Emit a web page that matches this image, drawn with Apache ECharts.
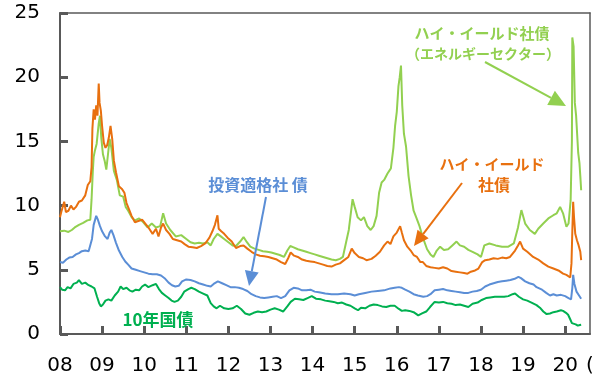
<!DOCTYPE html>
<html>
<head>
<meta charset="utf-8">
<script src="https://cdn.jsdelivr.net/npm/echarts@6/dist/echarts.min.js"></script>
<style>
  html, body { margin: 0; padding: 0; background: #fff; }
  #chart { width: 592px; height: 378px; }
</style>
</head>
<body>
<div id="chart"></div>
<script>
// Yields (%), sampled as [year, value]
const tsy10 = [
  [2008.00,3.65],[2008.05,3.45],[2008.12,3.4],[2008.18,3.65],[2008.25,3.55],[2008.32,3.9],[2008.40,4.0],
  [2008.45,4.2],[2008.52,3.9],[2008.60,4.0],[2008.68,3.8],[2008.75,3.7],[2008.82,3.55],[2008.85,3.4],
  [2008.88,2.9],[2008.93,2.4],[2008.97,2.15],[2009.02,2.3],[2009.08,2.6],[2009.15,2.7],[2009.22,2.6],
  [2009.30,3.0],[2009.38,3.3],[2009.44,3.7],[2009.50,3.5],[2009.58,3.6],[2009.65,3.4],[2009.72,3.3],
  [2009.80,3.45],[2009.88,3.4],[2009.95,3.7],[2010.02,3.85],[2010.10,3.65],[2010.20,3.8],[2010.28,3.9],
  [2010.35,3.5],[2010.42,3.2],[2010.50,3.0],[2010.58,2.8],[2010.65,2.6],[2010.72,2.5],[2010.80,2.6],
  [2010.88,2.9],[2010.95,3.3],[2011.05,3.5],[2011.12,3.6],[2011.20,3.5],[2011.30,3.3],[2011.40,3.15],
  [2011.50,3.0],[2011.58,2.4],[2011.65,2.15],[2011.72,2.0],[2011.80,2.2],[2011.90,2.0],[2012.00,1.95],
  [2012.10,2.0],[2012.20,2.2],[2012.30,1.95],[2012.40,1.6],[2012.50,1.5],[2012.60,1.65],[2012.70,1.75],
  [2012.80,1.7],[2012.90,1.75],[2013.00,1.9],[2013.10,2.0],[2013.20,1.9],[2013.30,1.75],[2013.40,2.15],
  [2013.48,2.5],[2013.58,2.75],[2013.68,2.7],[2013.78,2.65],[2013.88,2.8],[2013.98,2.95],[2014.08,2.75],
  [2014.20,2.7],[2014.30,2.6],[2014.40,2.55],[2014.50,2.5],[2014.60,2.4],[2014.70,2.45],[2014.80,2.3],
  [2014.90,2.2],[2015.00,2.0],[2015.08,1.85],[2015.15,2.05],[2015.25,2.0],[2015.35,2.2],[2015.45,2.3],
  [2015.55,2.25],[2015.65,2.15],[2015.75,2.1],[2015.85,2.2],[2015.95,2.2],[2016.05,1.95],[2016.12,1.8],
  [2016.20,1.85],[2016.30,1.8],[2016.40,1.7],[2016.51,1.45],[2016.60,1.6],[2016.70,1.75],[2016.79,2.1],
  [2016.90,2.5],[2017.00,2.45],[2017.10,2.5],[2017.20,2.4],[2017.30,2.35],[2017.40,2.25],[2017.50,2.3],
  [2017.60,2.2],[2017.70,2.1],[2017.80,2.35],[2017.92,2.45],[2018.02,2.65],[2018.12,2.8],[2018.22,2.85],
  [2018.33,2.9],[2018.45,2.9],[2018.55,2.9],[2018.65,2.95],[2018.75,3.1],[2018.81,3.15],[2018.90,2.9],
  [2019.00,2.7],[2019.10,2.6],[2019.20,2.45],[2019.32,2.25],[2019.40,2.05],[2019.48,1.75],[2019.56,1.55],
  [2019.64,1.6],[2019.72,1.7],[2019.80,1.75],[2019.90,1.85],[2019.95,1.8],[2020.02,1.65],[2020.07,1.5],
  [2020.12,1.15],[2020.16,0.85],[2020.20,0.7],[2020.25,0.75],[2020.30,0.65],[2020.35,0.7],[2020.38,0.72]
];

const igCorp = [
  [2008.00,5.6],[2008.07,5.55],[2008.15,5.8],[2008.22,5.95],[2008.30,6.0],[2008.38,6.2],[2008.45,6.3],
  [2008.52,6.45],[2008.60,6.5],[2008.68,6.45],[2008.72,6.4],[2008.76,7.4],[2008.80,8.5],[2008.86,9.2],
  [2008.90,8.9],[2008.95,8.4],[2009.00,8.0],[2009.07,7.6],[2009.13,7.4],[2009.18,7.9],[2009.22,8.1],
  [2009.27,7.7],[2009.33,7.1],[2009.40,6.5],[2009.48,6.0],[2009.55,5.65],[2009.62,5.4],[2009.70,5.1],
  [2009.80,5.0],[2009.90,4.9],[2010.00,4.8],[2010.10,4.7],[2010.20,4.65],[2010.30,4.65],[2010.40,4.55],
  [2010.50,4.3],[2010.58,4.0],[2010.66,3.8],[2010.74,3.7],[2010.82,3.75],[2010.90,4.1],[2011.00,4.25],
  [2011.10,4.2],[2011.20,4.1],[2011.30,3.95],[2011.40,3.85],[2011.50,3.75],[2011.58,3.7],[2011.65,3.9],
  [2011.75,4.1],[2011.85,3.95],[2011.95,3.8],[2012.05,3.65],[2012.15,3.65],[2012.25,3.6],[2012.35,3.5],
  [2012.45,3.35],[2012.55,3.1],[2012.65,2.95],[2012.75,2.85],[2012.85,2.8],[2012.95,2.85],[2013.05,2.9],
  [2013.15,2.95],[2013.25,2.8],[2013.35,2.95],[2013.45,3.4],[2013.55,3.6],[2013.65,3.55],[2013.75,3.4],
  [2013.85,3.4],[2013.95,3.45],[2014.05,3.3],[2014.15,3.25],[2014.30,3.15],[2014.45,3.1],[2014.60,3.1],
  [2014.75,3.15],[2014.90,3.1],[2015.00,3.0],[2015.10,3.1],[2015.25,3.2],[2015.40,3.3],[2015.55,3.35],
  [2015.70,3.4],[2015.85,3.55],[2015.95,3.6],[2016.05,3.65],[2016.12,3.6],[2016.20,3.45],[2016.30,3.3],
  [2016.40,3.1],[2016.50,3.0],[2016.63,2.9],[2016.72,2.95],[2016.80,3.1],[2016.90,3.4],[2017.00,3.45],
  [2017.10,3.5],[2017.20,3.4],[2017.30,3.35],[2017.40,3.3],[2017.50,3.25],[2017.60,3.2],[2017.70,3.2],
  [2017.80,3.3],[2017.90,3.35],[2018.00,3.45],[2018.10,3.7],[2018.20,3.85],[2018.30,3.95],[2018.40,4.05],
  [2018.50,4.1],[2018.60,4.15],[2018.70,4.2],[2018.80,4.3],[2018.89,4.45],[2018.95,4.35],[2019.05,4.1],
  [2019.15,3.95],[2019.25,3.85],[2019.32,3.65],[2019.45,3.45],[2019.55,3.2],[2019.64,3.0],[2019.72,3.1],
  [2019.80,3.0],[2019.90,3.05],[2020.00,2.95],[2020.08,2.8],[2020.14,2.7],[2020.17,3.6],[2020.19,4.6],
  [2020.22,3.9],[2020.27,3.3],[2020.33,3.0],[2020.38,2.75]
];

const hyCorp = [
  [2008.00,9.1],[2008.03,9.5],[2008.06,9.4],[2008.10,10.3],[2008.14,9.5],[2008.20,9.6],[2008.26,10.0],
  [2008.32,9.7],[2008.38,9.9],[2008.45,10.3],[2008.52,10.4],[2008.60,10.8],[2008.66,11.6],[2008.72,11.9],
  [2008.75,13.0],[2008.77,16.0],[2008.80,17.5],[2008.83,16.7],[2008.86,17.8],[2008.89,17.0],[2008.92,19.5],
  [2008.94,18.0],[2008.97,17.4],[2009.00,16.2],[2009.04,14.9],[2009.08,14.5],[2009.12,14.7],[2009.16,15.3],
  [2009.20,16.2],[2009.24,15.2],[2009.28,13.5],[2009.33,12.6],[2009.40,11.5],[2009.47,11.3],[2009.53,11.0],
  [2009.58,10.2],[2009.64,9.7],[2009.70,9.2],[2009.78,8.7],[2009.86,8.8],[2009.95,8.9],[2010.05,8.5],
  [2010.12,8.2],[2010.20,7.8],[2010.28,8.2],[2010.34,7.6],[2010.40,8.3],[2010.45,8.6],[2010.52,8.1],
  [2010.60,7.8],[2010.68,7.4],[2010.78,7.3],[2010.88,7.2],[2010.96,7.0],[2011.05,6.8],[2011.15,6.75],
  [2011.25,6.7],[2011.35,6.85],[2011.45,7.05],[2011.55,7.5],[2011.62,8.0],[2011.68,8.5],[2011.74,9.25],
  [2011.77,8.2],[2011.83,8.0],[2011.90,7.8],[2011.98,7.5],[2012.08,7.2],[2012.18,6.7],[2012.28,6.85],
  [2012.36,6.9],[2012.45,6.65],[2012.55,6.4],[2012.65,6.2],[2012.75,6.1],[2012.85,6.05],[2012.95,6.0],
  [2013.05,5.9],[2013.15,5.8],[2013.25,5.6],[2013.35,5.45],[2013.42,5.9],[2013.48,6.35],[2013.56,6.1],
  [2013.65,6.0],[2013.75,5.8],[2013.85,5.7],[2013.95,5.65],[2014.05,5.6],[2014.15,5.5],[2014.25,5.4],
  [2014.35,5.3],[2014.45,5.25],[2014.55,5.4],[2014.65,5.5],[2014.75,5.75],[2014.85,6.0],[2014.93,6.65],
  [2015.00,6.3],[2015.10,6.0],[2015.20,5.9],[2015.28,5.75],[2015.40,5.85],[2015.50,6.1],[2015.60,6.4],
  [2015.70,6.9],[2015.78,7.2],[2015.85,7.0],[2015.92,7.6],[2016.00,7.9],[2016.08,8.4],[2016.12,7.9],
  [2016.17,7.3],[2016.25,6.8],[2016.33,6.5],[2016.40,6.15],[2016.48,6.0],[2016.56,5.6],[2016.62,5.6],
  [2016.70,5.3],[2016.80,5.2],[2016.90,5.15],[2017.00,5.1],[2017.10,5.2],[2017.20,5.1],[2017.30,4.9],
  [2017.40,4.85],[2017.50,4.8],[2017.60,4.75],[2017.68,4.7],[2017.76,4.85],[2017.86,4.95],[2017.94,5.1],
  [2018.03,5.6],[2018.10,5.75],[2018.20,5.8],[2018.30,5.9],[2018.40,5.85],[2018.50,5.95],[2018.60,5.9],
  [2018.69,6.0],[2018.81,6.5],[2018.88,6.9],[2018.93,7.2],[2019.00,6.65],[2019.10,6.4],[2019.24,6.0],
  [2019.36,5.8],[2019.48,5.5],[2019.60,5.25],[2019.72,5.1],[2019.84,4.95],[2019.95,4.7],[2020.03,4.6],
  [2020.07,4.45],[2020.12,4.4],[2020.15,5.5],[2020.17,8.0],[2020.19,10.3],[2020.21,9.1],[2020.24,7.8],
  [2020.28,7.3],[2020.32,6.9],[2020.36,6.4],[2020.38,5.75]
];

const hyEnergy = [
  [2008.00,8.0],[2008.10,8.05],[2008.20,7.95],[2008.28,8.1],[2008.35,8.3],[2008.45,8.5],[2008.55,8.65],
  [2008.65,8.85],[2008.72,8.9],[2008.75,10.5],[2008.78,12.7],[2008.80,13.8],[2008.83,14.3],[2008.87,14.8],
  [2008.92,16.4],[2008.95,17.0],[2008.98,15.3],[2009.02,14.0],[2009.06,13.5],[2009.10,12.8],[2009.14,14.0],
  [2009.18,15.2],[2009.22,14.5],[2009.28,12.7],[2009.35,12.0],[2009.42,10.8],[2009.50,10.7],[2009.56,9.9],
  [2009.62,9.6],[2009.70,9.1],[2009.78,8.85],[2009.88,9.0],[2009.98,8.7],[2010.08,8.3],[2010.18,8.6],
  [2010.28,8.3],[2010.38,8.4],[2010.45,9.4],[2010.52,8.6],[2010.62,8.1],[2010.75,7.6],[2010.88,7.7],
  [2011.00,7.4],[2011.10,7.15],[2011.20,7.05],[2011.30,7.1],[2011.40,7.05],[2011.50,7.15],[2011.58,6.9],
  [2011.65,7.4],[2011.74,7.8],[2011.82,7.6],[2011.90,7.4],[2012.00,7.15],[2012.10,6.9],[2012.18,6.85],
  [2012.28,7.2],[2012.36,7.55],[2012.44,7.15],[2012.52,6.8],[2012.62,6.65],[2012.72,6.55],[2012.82,6.45],
  [2012.92,6.4],[2013.02,6.35],[2013.12,6.25],[2013.22,6.15],[2013.32,6.0],[2013.40,6.5],[2013.47,6.85],
  [2013.55,6.75],[2013.65,6.6],[2013.75,6.5],[2013.85,6.4],[2013.95,6.3],[2014.05,6.2],[2014.15,6.1],
  [2014.25,6.0],[2014.35,5.9],[2014.45,5.8],[2014.55,5.75],[2014.65,5.85],[2014.72,6.0],[2014.80,7.2],
  [2014.86,8.1],[2014.92,9.7],[2014.95,10.5],[2015.00,9.9],[2015.07,9.1],[2015.15,8.85],[2015.22,9.1],
  [2015.30,8.4],[2015.38,8.1],[2015.45,8.4],[2015.52,9.2],[2015.58,11.0],[2015.64,11.8],[2015.70,12.0],
  [2015.78,12.5],[2015.86,12.9],[2015.92,14.5],[2015.96,16.2],[2016.00,17.3],[2016.04,19.3],[2016.07,20.0],
  [2016.10,20.9],[2016.13,17.8],[2016.17,15.6],[2016.22,14.6],[2016.28,12.3],[2016.34,10.8],[2016.40,9.6],
  [2016.46,9.1],[2016.54,8.4],[2016.62,7.5],[2016.72,6.6],[2016.80,6.2],[2016.87,6.0],[2016.95,6.5],
  [2017.03,6.8],[2017.12,6.55],[2017.22,6.6],[2017.32,6.9],[2017.42,7.2],[2017.50,6.9],[2017.60,6.8],
  [2017.70,6.55],[2017.80,6.4],[2017.92,6.2],[2018.00,6.0],[2018.08,6.9],[2018.20,7.05],[2018.35,6.9],
  [2018.50,6.8],[2018.65,6.8],[2018.78,7.05],[2018.88,8.3],[2018.96,9.65],[2019.05,8.6],[2019.16,8.1],
  [2019.28,7.8],[2019.36,8.2],[2019.48,8.6],[2019.60,9.0],[2019.72,9.25],[2019.80,9.4],[2019.88,9.9],
  [2019.95,9.4],[2020.03,8.35],[2020.08,8.6],[2020.13,10.4],[2020.16,15.0],[2020.17,23.1],[2020.20,22.4],
  [2020.23,18.0],[2020.26,17.0],[2020.29,17.0],[2020.31,14.1],[2020.34,13.3],[2020.36,12.3],[2020.38,11.2]
];

const yearTicks = ['08','09','10','11','12','13','14','15','16','17','18','19','20'];

const C_TSY = '#00B050';
const C_IG = '#5B8ED6';
const C_HY = '#E8700F';
const C_EN = '#92D050';
const AXIS = '#595959';
const JP = '"Noto Sans CJK JP", "Noto Sans", sans-serif';
const NUM = '"DejaVu Sans", Verdana, sans-serif';
const X_MIN = 2008, X_MAX = 2020.59;

const chart = echarts.init(document.getElementById('chart'));

function lineSeries(name, data, color, z) {
  return {
    name, type: 'line', data, z,
    showSymbol: false, symbol: 'none', smooth: false,
    lineStyle: { color, width: 2 },
    animation: false
  };
}

// annotation arrow: straight shaft plus filled triangular head
function arrow(x1, y1, x2, y2, color, headLen, headHalf) {
  const dx = x2 - x1, dy = y2 - y1;
  const len = Math.hypot(dx, dy);
  const ux = dx / len, uy = dy / len;
  const bx = x2 - ux * headLen, by = y2 - uy * headLen;
  const px = -uy * headHalf, py = ux * headHalf;
  return [
    { type: 'line', shape: { x1, y1, x2: bx, y2: by }, style: { stroke: color, lineWidth: 2 }, z: 10 },
    { type: 'polygon', shape: { points: [[x2, y2], [bx + px, by + py], [bx - px, by - py]] },
      style: { fill: color }, z: 10 }
  ];
}

function label(text, x, y, color, size) {
  return {
    type: 'text', x, y, z: 11,
    style: { text, fill: color, font: 'bold ' + size + 'px ' + JP, textAlign: 'center', textVerticalAlign: 'middle' }
  };
}

// top and right frame lines come from mirror axes that show only their line
const frameAxis = {
  axisLine: { show: true, onZero: false, lineStyle: { color: AXIS, width: 1.5 } },
  axisTick: { show: false }, axisLabel: { show: false }, splitLine: { show: false }
};

chart.setOption({
  animation: false,
  grid: { left: 60, right: 2, top: 13, bottom: 44 },
  xAxis: [
    {
      type: 'value', min: X_MIN, max: X_MAX, interval: 1, position: 'bottom',
      axisLine: { show: true, onZero: false, lineStyle: { color: AXIS, width: 2 } },
      axisTick: { show: true, inside: true, length: 8, lineStyle: { color: AXIS, width: 3 } },
      splitLine: { show: false },
      axisLabel: {
        margin: 22, color: '#000', fontSize: 20, fontFamily: NUM,
        showMaxLabel: false,
        formatter: v => {
          const i = Math.round(v - X_MIN);
          return Math.abs(v - Math.round(v)) < 1e-6 && yearTicks[i] ? yearTicks[i] : '';
        }
      }
    },
    Object.assign({ type: 'value', min: X_MIN, max: X_MAX, position: 'top' }, frameAxis)
  ],
  yAxis: [
    {
      type: 'value', min: 0, max: 25, interval: 5, position: 'left',
      axisLine: { show: true, onZero: false, lineStyle: { color: AXIS, width: 2 } },
      axisTick: { show: true, inside: true, length: 8, lineStyle: { color: AXIS, width: 3 } },
      splitLine: { show: false },
      axisLabel: { margin: 20, color: '#000', fontSize: 20, fontFamily: NUM }
    },
    Object.assign({ type: 'value', min: 0, max: 25, position: 'right' }, frameAxis)
  ],
  series: [
    lineSeries('ハイ・イールド社債（エネルギーセクター）', hyEnergy, C_EN, 2),
    lineSeries('ハイ・イールド社債', hyCorp, C_HY, 3),
    lineSeries('投資適格社債', igCorp, C_IG, 4),
    lineSeries('10年国債', tsy10, C_TSY, 5)
  ],
  graphic: [
    label('10年国債', 158, 320, C_TSY, 17),
    label('投資適格社 債', 258, 185, C_IG, 16),
    ...arrow(266, 197, 249, 286, C_IG, 15, 7),
    label('ハイ・イールド', 492, 164, C_HY, 15),
    label('社債', 494, 185, C_HY, 16),
    ...arrow(462, 183, 414, 246, C_HY, 15, 7),
    label('ハイ・イールド社債', 482, 33, C_EN, 15),
    label('（エネルギーセクター）', 483, 54, C_EN, 14),
    ...arrow(485, 62, 566, 106, C_EN, 17, 8),
    {
      type: 'text', x: 586, y: 366, z: 11,
      style: { text: '(年)', fill: '#000', font: '20px ' + NUM, textAlign: 'left', textVerticalAlign: 'middle' }
    }
  ]
});
</script>
</body>
</html>
